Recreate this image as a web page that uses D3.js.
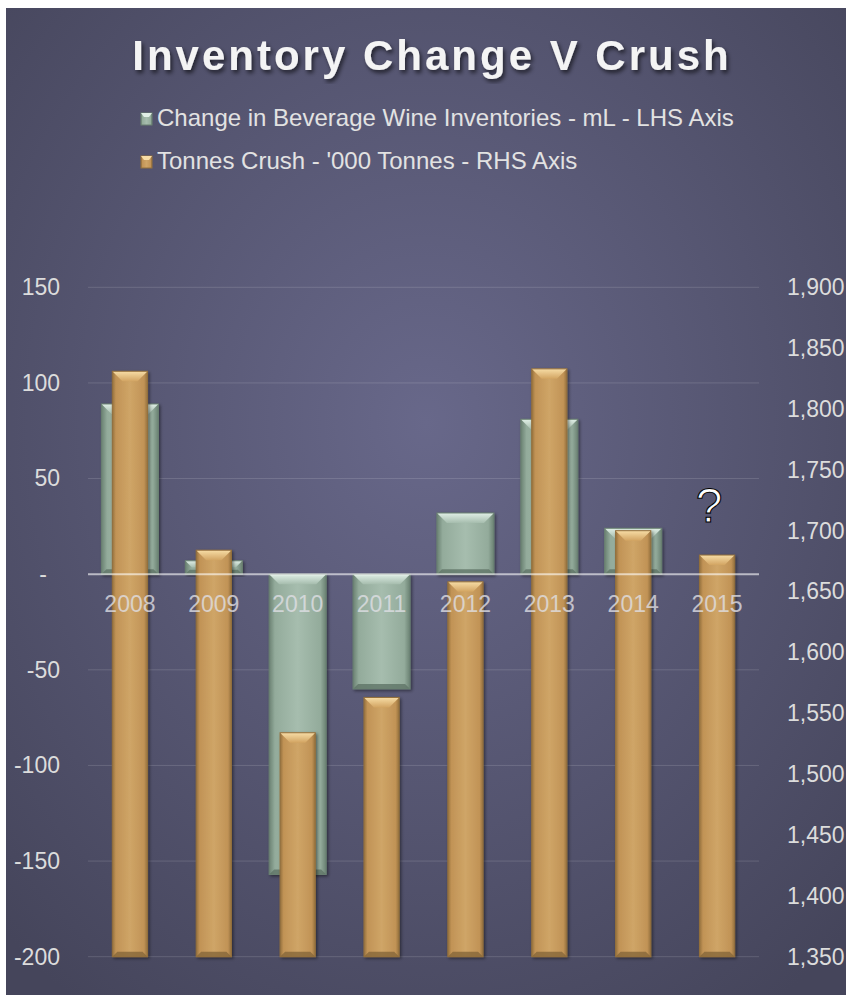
<!DOCTYPE html>
<html>
<head>
<meta charset="utf-8">
<script src="https://cdn.jsdelivr.net/npm/d3@7"></script>
<style>
  body { margin: 0; background: #fff; }
  text { font-family: "Liberation Sans", Arial, sans-serif; }
</style>
</head>
<body>
<div class="chart"></div>
<script>
var years = ["2008", "2009", "2010", "2011", "2012", "2013", "2014", "2015"];
var inventoryChange = [89, 7, -157, -60, 32, 81, 24, null];
var tonnesCrush = [1831, 1684, 1534, 1563, 1658, 1833, 1700, 1680];
var leftTicks = [150, 100, 50, 0, -50, -100, -150, -200];
var rightTicks = [1350, 1400, 1450, 1500, 1550, 1600, 1650, 1700, 1750, 1800, 1850, 1900];
var seriesNames = ["Change in Beverage Wine Inventories - mL - LHS Axis", "Tonnes Crush - '000 Tonnes - RHS Axis"];

var svgWidth = 846;
var svgHeight = 995;
var fontFamily = "'Liberation Sans', Arial, sans-serif";

// plain hyphen for negatives, like the spreadsheet
var fmt = d3.formatLocale({ decimal: ".", thousands: ",", grouping: [3], currency: ["$", ""], minus: "-" }).format(",");

var svg = d3.select(".chart")
    .append("svg")
    .attr("width", svgWidth)
    .attr("height", svgHeight);

var defs = svg.append("defs");

// background
var bg = defs.append("radialGradient").attr("id", "bg")
    .attr("cx", "50%").attr("cy", "42%").attr("r", "72%");
bg.append("stop").attr("offset", "0%").attr("stop-color", "#68688a");
bg.append("stop").attr("offset", "100%").attr("stop-color", "#45455b");

var shadow = defs.append("filter").attr("id", "shadow")
    .attr("x", "-20%").attr("y", "-20%").attr("width", "140%").attr("height", "140%");
shadow.append("feDropShadow").attr("dx", 1.5).attr("dy", 1.5)
    .attr("stdDeviation", 1.5).attr("flood-color", "#000").attr("flood-opacity", 0.45);

var titleShadow = defs.append("filter").attr("id", "titleShadow");
titleShadow.append("feDropShadow").attr("dx", 2).attr("dy", 3)
    .attr("stdDeviation", 2).attr("flood-color", "#000").attr("flood-opacity", 0.6);

var palettes = {
    green: { dark: "#6a8172", mid: "#93ab9b", light: "#a6bdae", top1: "#e0efe6", top2: "#a6bdae", bottom: "#5f7466" },
    orange: { dark: "#94703d", mid: "#c19356", light: "#cfa567", top1: "#f7dda6", top2: "#d2a462", bottom: "#86663a" }
};

Object.keys(palettes).forEach(function(k) {
    var p = palettes[k];
    var face = defs.append("linearGradient").attr("id", k + "Face")
        .attr("x1", 0).attr("x2", 1).attr("y1", 0).attr("y2", 0);
    face.append("stop").attr("offset", "0%").attr("stop-color", p.dark);
    face.append("stop").attr("offset", "10%").attr("stop-color", p.mid);
    face.append("stop").attr("offset", "50%").attr("stop-color", p.light);
    face.append("stop").attr("offset", "90%").attr("stop-color", p.mid);
    face.append("stop").attr("offset", "100%").attr("stop-color", p.dark);
    var top = defs.append("linearGradient").attr("id", k + "Top")
        .attr("x1", 0).attr("x2", 0).attr("y1", 0).attr("y2", 1);
    top.append("stop").attr("offset", "0%").attr("stop-color", p.top1);
    top.append("stop").attr("offset", "100%").attr("stop-color", p.top2);
});

svg.append("rect")
    .attr("x", 6).attr("y", 8)
    .attr("width", svgWidth - 6).attr("height", svgHeight - 8)
    .attr("fill", "url(#bg)");

var plotLeft = 88, plotRight = 759, plotTop = 287.3, plotBottom = 956.7;

var xBand = d3.scaleBand().domain(years).range([plotLeft, plotRight]);
var yLeft = d3.scaleLinear().domain([-200, 150]).range([plotBottom, plotTop]);
var yRight = d3.scaleLinear().domain([1350, 1900]).range([plotBottom, plotTop]);

// gridlines
svg.append("g").selectAll("line")
    .data(leftTicks.filter(function(d) { return d !== 0; }))
    .enter().append("line")
    .attr("x1", plotLeft).attr("x2", plotRight)
    .attr("y1", function(d) { return yLeft(d); })
    .attr("y2", function(d) { return yLeft(d); })
    .attr("stroke", "#ffffff").attr("stroke-opacity", 0.14).attr("stroke-width", 1);

function drawBar(g, x0, y0, w, h, p, name) {
    var b = Math.min(10, h / 2);
    var bar = g.append("g").attr("filter", "url(#shadow)");
    bar.append("rect").attr("x", x0).attr("y", y0).attr("width", w).attr("height", h)
        .attr("fill", "url(#" + name + "Face)");
    bar.append("polygon")
        .attr("points", [[x0, y0], [x0 + w, y0], [x0 + w - b, y0 + b], [x0 + b, y0 + b]].join(" "))
        .attr("fill", "url(#" + name + "Top)");
    var bb = Math.min(5, h / 3);
    bar.append("polygon")
        .attr("points", [[x0, y0 + h], [x0 + w, y0 + h], [x0 + w - bb, y0 + h - bb], [x0 + bb, y0 + h - bb]].join(" "))
        .attr("fill", p.bottom).attr("fill-opacity", 0.8);
    bar.append("rect").attr("x", x0).attr("y", y0).attr("width", w).attr("height", h)
        .attr("fill", "none").attr("stroke", p.dark).attr("stroke-width", 1);
}

var bw = xBand.bandwidth();
var greenW = bw * 0.68;
var orangeW = bw * 0.42;

var bars = svg.append("g");
years.forEach(function(yr, i) {
    var v = inventoryChange[i];
    if (v === null) return;
    var y0 = Math.min(yLeft(v), yLeft(0));
    var h = Math.abs(yLeft(v) - yLeft(0));
    drawBar(bars, xBand(yr) + (bw - greenW) / 2, y0, greenW, h, palettes.green, "green");
});
years.forEach(function(yr, i) {
    var v = tonnesCrush[i];
    var y0 = yRight(v);
    var h = yRight(1350) - yRight(v);
    drawBar(bars, xBand(yr) + (bw - orangeW) / 2, y0, orangeW, h, palettes.orange, "orange");
});

// zero line on top of bars
svg.append("line")
    .attr("x1", plotLeft).attr("x2", plotRight)
    .attr("y1", yLeft(0)).attr("y2", yLeft(0))
    .attr("stroke", "#ffffff").attr("stroke-opacity", 0.6).attr("stroke-width", 2);

// axes
var leftAxis = d3.axisLeft(yLeft).tickValues(leftTicks).tickSize(0).tickPadding(0)
    .tickFormat(function(d) { return d === 0 ? "-" : fmt(d); });
var gl = svg.append("g").attr("transform", "translate(60,0)").call(leftAxis);
gl.select(".domain").remove();
gl.selectAll("text").attr("font-size", 23).attr("fill", "#dcdcdc")
    .attr("font-family", fontFamily)
    .attr("dx", function(d) { return d === 0 ? -13 : 0; });

var rightAxis = d3.axisRight(yRight).tickValues(rightTicks).tickSize(0).tickPadding(0)
    .tickFormat(fmt);
var gr = svg.append("g").attr("transform", "translate(787,0)").call(rightAxis);
gr.select(".domain").remove();
gr.selectAll("text").attr("font-size", 23).attr("fill", "#dcdcdc")
    .attr("font-family", fontFamily);

var bottomAxis = d3.axisBottom(xBand).tickSize(0).tickPadding(21.5);
var gb = svg.append("g").attr("transform", "translate(0," + yLeft(0) + ")").call(bottomAxis);
gb.select(".domain").remove();
gb.selectAll("text").attr("font-size", 23).attr("fill", "#e0e0e6").attr("fill-opacity", 0.78)
    .attr("font-family", fontFamily);

// question mark over the 2015 crush
svg.append("text")
    .attr("x", xBand("2015") + bw / 2 - 8)
    .attr("y", yRight(tonnesCrush[7]) - 33)
    .attr("text-anchor", "middle")
    .attr("font-size", 48)
    .attr("fill", "#ffffff").attr("stroke", "#000").attr("stroke-width", 1.1)
    .text("?");

// title
svg.append("text")
    .attr("x", 432).attr("y", 70)
    .attr("text-anchor", "middle")
    .attr("font-size", 42).attr("font-weight", "bold")
    .attr("letter-spacing", 3)
    .attr("fill", "#f4f4f4")
    .attr("filter", "url(#titleShadow)")
    .text("Inventory Change V Crush");

// legend
var legend = svg.append("g");
var legendColors = ["green", "orange"];
seriesNames.forEach(function(name, i) {
    var yy = 126 + i * 43;
    var p = palettes[legendColors[i]];
    legend.append("rect")
        .attr("x", 141).attr("y", yy - 13).attr("width", 11).attr("height", 12)
        .attr("fill", "url(#" + legendColors[i] + "Face)").attr("stroke", p.dark);
    legend.append("polygon")
        .attr("points", [[141, yy - 13], [152, yy - 13], [149, yy - 9], [144, yy - 9]].join(" "))
        .attr("fill", p.top1);
    legend.append("text")
        .attr("x", 157).attr("y", yy)
        .attr("font-size", 24).attr("fill", "#e2e2e2")
        .text(name);
});
</script>
</body>
</html>
